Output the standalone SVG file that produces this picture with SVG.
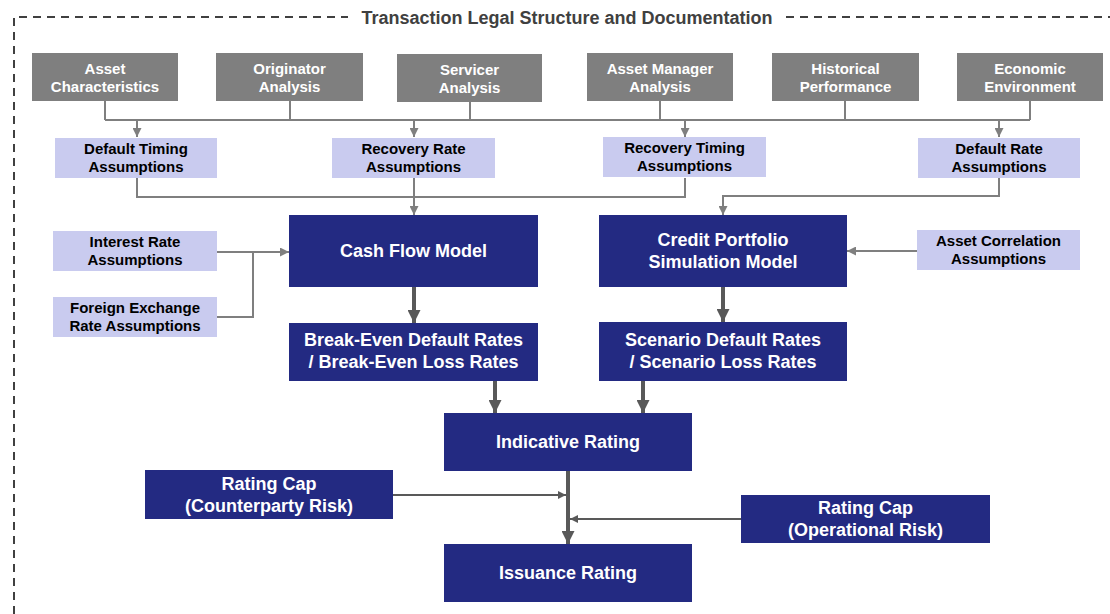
<svg xmlns="http://www.w3.org/2000/svg" width="1110" height="614" viewBox="0 0 1110 614">
<style>
  .frame{fill:none;stroke:#404040;stroke-width:2;stroke-dasharray:8 6}
  .title{font-family:"Liberation Sans",Arial,sans-serif;font-weight:bold;font-size:18px;fill:#404040;text-anchor:middle}
  .gbox{fill:#7f7f7f}
  .lbox{fill:#c9cbef}
  .nbox{fill:#232a82}
  .gt{font-family:"Liberation Sans",Arial,sans-serif;font-weight:bold;font-size:15px;fill:#ffffff;text-anchor:middle}
  .lt{font-family:"Liberation Sans",Arial,sans-serif;font-weight:bold;font-size:15px;fill:#000000;text-anchor:middle}
  .nt{font-family:"Liberation Sans",Arial,sans-serif;font-weight:bold;font-size:18px;fill:#ffffff;text-anchor:middle}
  .thin{fill:none;stroke:#7f7f7f;stroke-width:2}
  .thick{fill:none;stroke:#595959;stroke-width:4}
  .cap{fill:none;stroke:#595959;stroke-width:2}
</style>
<defs>
  <marker id="ah" viewBox="0 0 10 10" refX="10" refY="5" markerWidth="9" markerHeight="9" markerUnits="userSpaceOnUse" orient="auto">
    <path d="M0,0 L10,5 L0,10 z" fill="#7f7f7f"/>
  </marker>
  <marker id="ahk" viewBox="0 0 10 10" refX="10" refY="5" markerWidth="13" markerHeight="13" markerUnits="userSpaceOnUse" orient="auto">
    <path d="M0,0 L10,5 L0,10 z" fill="#595959"/>
  </marker>
  <marker id="ahc" viewBox="0 0 10 10" refX="10" refY="5" markerWidth="8" markerHeight="8" markerUnits="userSpaceOnUse" orient="auto">
    <path d="M0,0 L10,5 L0,10 z" fill="#595959"/>
  </marker>
</defs>

<g id="frame">
  <path class="frame" d="M14,614 V17 H348"/>
  <path class="frame" d="M786,17 H1110"/>
  <text class="title" x="567" y="24">Transaction Legal Structure and Documentation</text>
</g>

<g id="connectors">
  <path class="thin" d="M105,101 V120 M290,101 V120 M470,102 V120 M660,101 V120 M845,101 V120 M1030,101 V120 M105,120 H1030"/>
  <path class="thin" d="M137,120 V137" marker-end="url(#ah)"/>
  <path class="thin" d="M414,120 V137" marker-end="url(#ah)"/>
  <path class="thin" d="M685,120 V137" marker-end="url(#ah)"/>
  <path class="thin" d="M999,120 V137" marker-end="url(#ah)"/>
  <path class="thin" d="M137,178 V197 H685 V178"/>
  <path class="thin" d="M414,178 V215" marker-end="url(#ah)"/>
  <path class="thin" d="M999,178 V196 H723 V215" marker-end="url(#ah)"/>
  <path class="thin" d="M217,252 H289" marker-end="url(#ah)"/>
  <path class="thin" d="M217,317 H253 V252"/>
  <path class="thin" d="M917,251 H847" marker-end="url(#ah)"/>
  <path class="thick" d="M414,287 V323" marker-end="url(#ahk)"/>
  <path class="thick" d="M723,287 V322" marker-end="url(#ahk)"/>
  <path class="thick" d="M495,381 V413" marker-end="url(#ahk)"/>
  <path class="thick" d="M643,381 V413" marker-end="url(#ahk)"/>
  <path class="thick" d="M568,471 V544" marker-end="url(#ahk)"/>
  <path class="cap" d="M393,495 H566" marker-end="url(#ahc)"/>
  <path class="cap" d="M741,519 H570" marker-end="url(#ahc)"/>
</g>

<g id="asset-characteristics"><rect class="gbox" x="32" y="53" width="146" height="48"/><text class="gt" x="105" y="74">Asset</text><text class="gt" x="105" y="92">Characteristics</text></g>
<g id="originator-analysis"><rect class="gbox" x="216" y="53" width="147" height="48"/><text class="gt" x="289.5" y="74">Originator</text><text class="gt" x="289.5" y="92">Analysis</text></g>
<g id="servicer-analysis"><rect class="gbox" x="397" y="54" width="145" height="48"/><text class="gt" x="469.5" y="75">Servicer</text><text class="gt" x="469.5" y="93">Analysis</text></g>
<g id="asset-manager-analysis"><rect class="gbox" x="587" y="53" width="146" height="48"/><text class="gt" x="660" y="74">Asset Manager</text><text class="gt" x="660" y="92">Analysis</text></g>
<g id="historical-performance"><rect class="gbox" x="772" y="53" width="147" height="48"/><text class="gt" x="845.5" y="74">Historical</text><text class="gt" x="845.5" y="92">Performance</text></g>
<g id="economic-environment"><rect class="gbox" x="957" y="53" width="146" height="48"/><text class="gt" x="1030" y="74">Economic</text><text class="gt" x="1030" y="92">Environment</text></g>

<g id="default-timing"><rect class="lbox" x="55" y="138" width="162" height="40"/><text class="lt" x="136" y="154">Default Timing</text><text class="lt" x="136" y="172">Assumptions</text></g>
<g id="recovery-rate"><rect class="lbox" x="332" y="138" width="163" height="40"/><text class="lt" x="413.5" y="154">Recovery Rate</text><text class="lt" x="413.5" y="172">Assumptions</text></g>
<g id="recovery-timing"><rect class="lbox" x="603" y="137" width="163" height="40"/><text class="lt" x="684.5" y="153">Recovery Timing</text><text class="lt" x="684.5" y="171">Assumptions</text></g>
<g id="default-rate"><rect class="lbox" x="918" y="138" width="162" height="40"/><text class="lt" x="999" y="154">Default Rate</text><text class="lt" x="999" y="172">Assumptions</text></g>

<g id="interest-rate"><rect class="lbox" x="53" y="231" width="164" height="40"/><text class="lt" x="135" y="247">Interest Rate</text><text class="lt" x="135" y="265">Assumptions</text></g>
<g id="foreign-exchange"><rect class="lbox" x="53" y="297" width="164" height="40"/><text class="lt" x="135" y="313">Foreign Exchange</text><text class="lt" x="135" y="331">Rate Assumptions</text></g>
<g id="asset-correlation"><rect class="lbox" x="917" y="230" width="163" height="40"/><text class="lt" x="998.5" y="246">Asset Correlation</text><text class="lt" x="998.5" y="264">Assumptions</text></g>

<g id="cash-flow-model"><rect class="nbox" x="289" y="215" width="249" height="72"/><text class="nt" x="413.5" y="257">Cash Flow Model</text></g>
<g id="credit-portfolio"><rect class="nbox" x="599" y="215" width="248" height="72"/><text class="nt" x="723" y="246">Credit Portfolio</text><text class="nt" x="723" y="268">Simulation Model</text></g>
<g id="break-even"><rect class="nbox" x="289" y="323" width="249" height="58"/><text class="nt" x="413.5" y="346">Break-Even Default Rates</text><text class="nt" x="413.5" y="368">/ Break-Even Loss Rates</text></g>
<g id="scenario"><rect class="nbox" x="599" y="322" width="248" height="59"/><text class="nt" x="723" y="346">Scenario Default Rates</text><text class="nt" x="723" y="368">/ Scenario Loss Rates</text></g>
<g id="indicative-rating"><rect class="nbox" x="444" y="413" width="248" height="58"/><text class="nt" x="568" y="448">Indicative Rating</text></g>
<g id="counterparty-cap"><rect class="nbox" x="145" y="470" width="248" height="49"/><text class="nt" x="269" y="490">Rating Cap</text><text class="nt" x="269" y="512">(Counterparty Risk)</text></g>
<g id="operational-cap"><rect class="nbox" x="741" y="495" width="249" height="48"/><text class="nt" x="865.5" y="514">Rating Cap</text><text class="nt" x="865.5" y="536">(Operational Risk)</text></g>
<g id="issuance-rating"><rect class="nbox" x="444" y="544" width="248" height="58"/><text class="nt" x="568" y="579">Issuance Rating</text></g>
</svg>
